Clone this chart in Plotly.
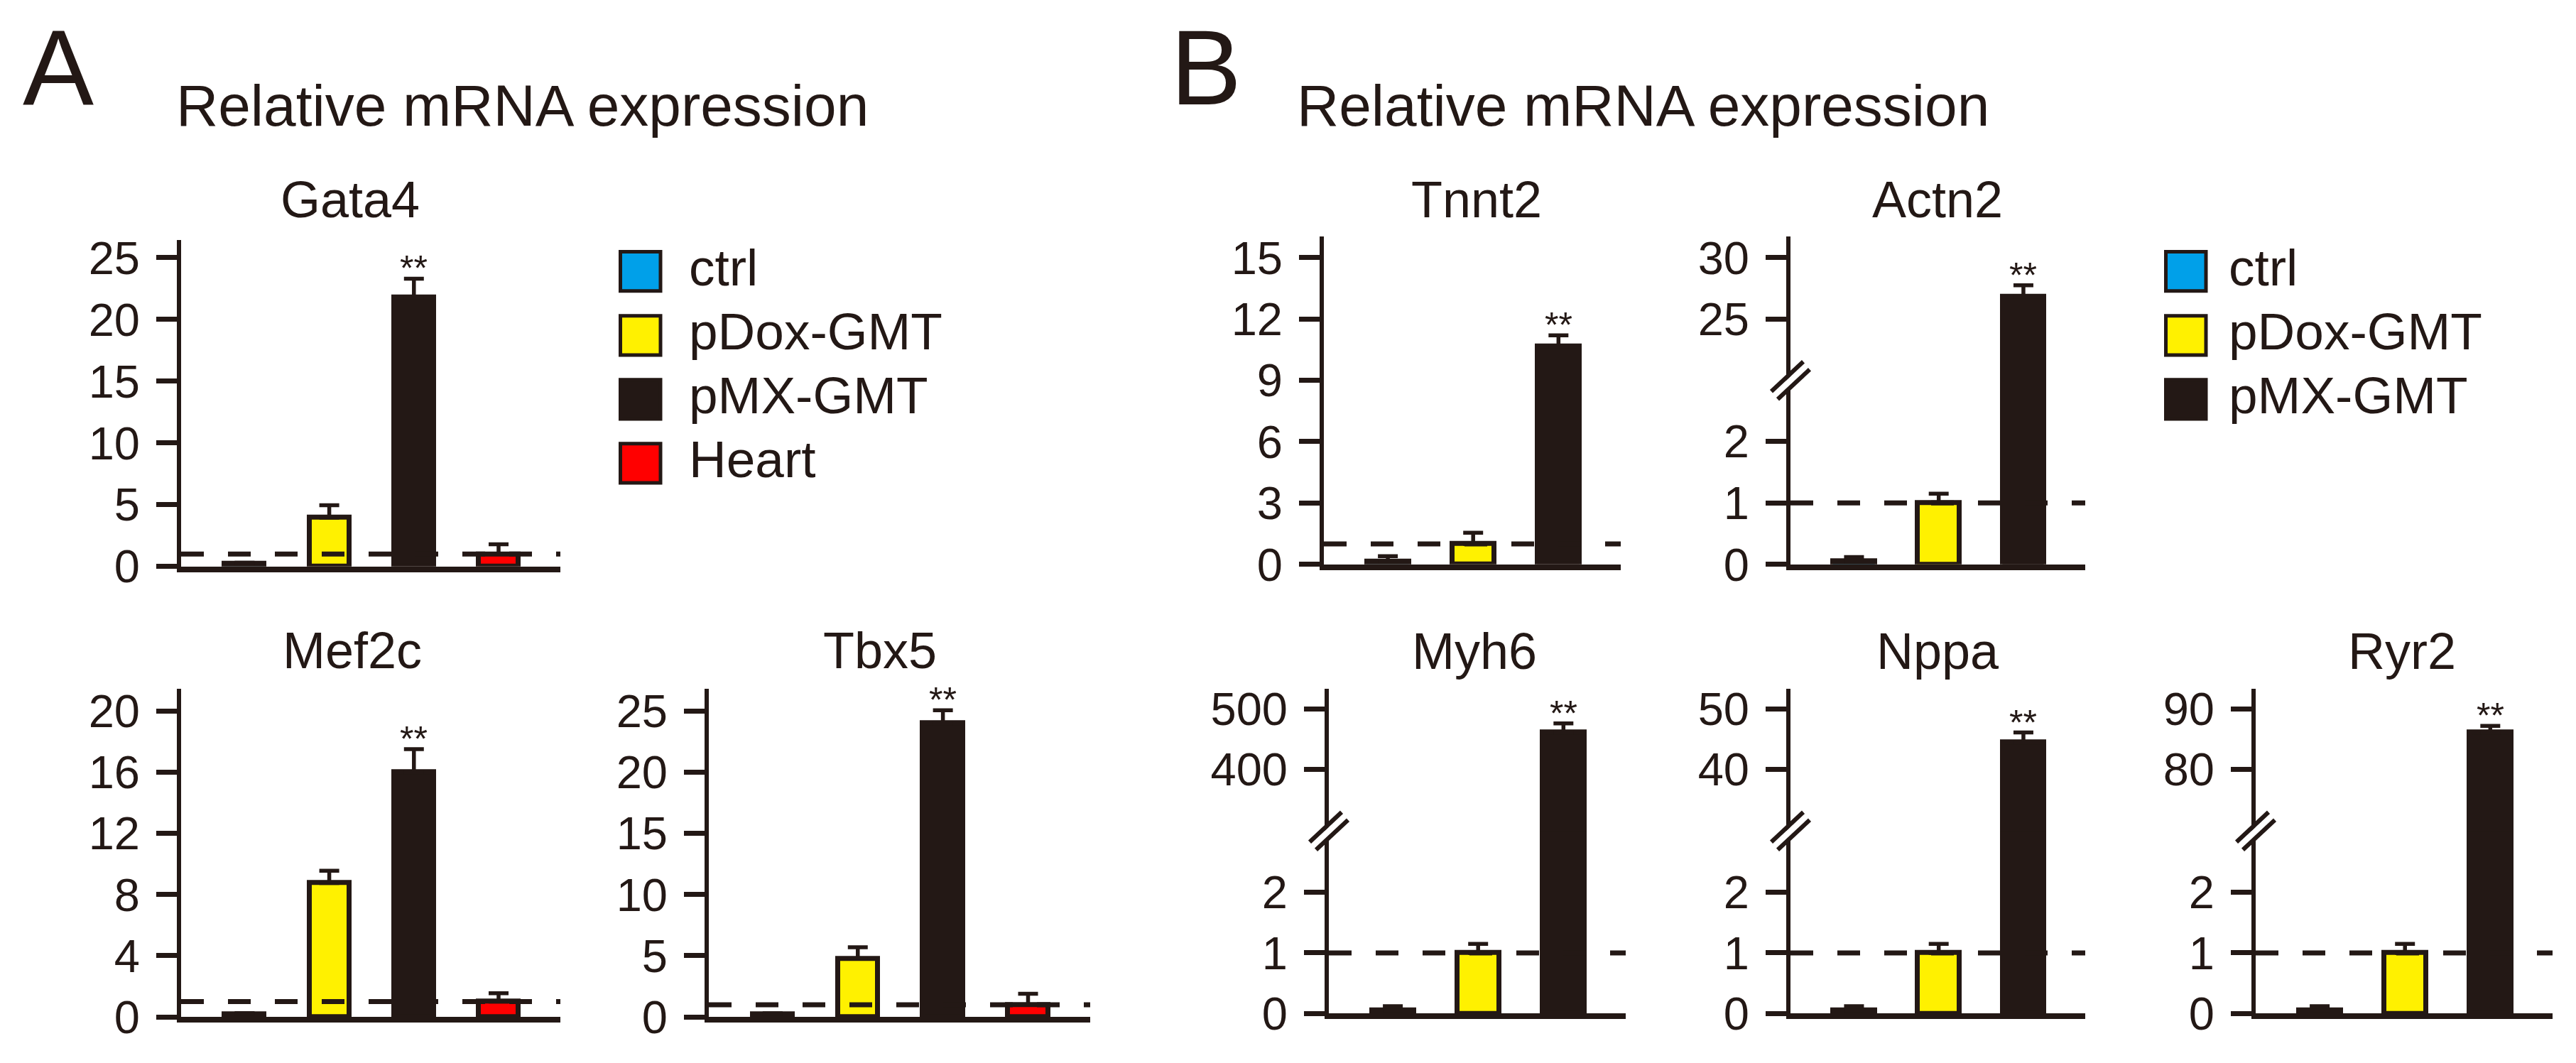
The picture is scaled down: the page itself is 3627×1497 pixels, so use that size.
import plotly.graph_objects as go

W, H = 3627, 1497
DARK = "#231815"
FONT = "Liberation Sans, Arial, Helvetica, sans-serif"

GROUPS_A = ["ctrl", "pDox-GMT", "pMX-GMT", "Heart"]
GROUPS_B = ["ctrl", "pDox-GMT", "pMX-GMT"]
COLORS = {"ctrl": "#00A0E9", "pDox-GMT": "#FFF100", "pMX-GMT": DARK, "Heart": "#FF0000"}
REF_LEVEL = 1.0  # dashed line = heart level

# panel A (mean, sem)
GATA4_MEAN = [0.25, 3.95, 21.8, 1.0]
GATA4_SEM = [0.05, 1.0, 1.5, 0.8]
MEF2C_MEAN = [0.2, 8.75, 16.0, 1.0]
MEF2C_SEM = [0.05, 0.8, 1.5, 0.55]
TBX5_MEAN = [0.25, 4.75, 24.0, 1.0]
TBX5_SEM = [0.05, 0.95, 1.05, 0.9]

# panel B
TNNT2_MEAN = [0.15, 1.0, 10.65]
TNNT2_SEM = [0.25, 0.55, 0.55]
ACTN2_MEAN = [0.05, 1.0, 26.8]
ACTN2_SEM = [0.07, 0.15, 0.95]
MYH6_MEAN = [0.05, 1.0, 461]
MYH6_SEM = [0.07, 0.15, 15]
NPPA_MEAN = [0.05, 1.0, 44.5]
NPPA_SEM = [0.07, 0.15, 1.6]
RYR2_MEAN = [0.05, 1.0, 86.1]
RYR2_SEM = [0.07, 0.15, 1.1]

GATA4_TICKS = [0, 5, 10, 15, 20, 25]
MEF2C_TICKS = [0, 4, 8, 12, 16, 20]
TBX5_TICKS = [0, 5, 10, 15, 20, 25]
TNNT2_TICKS = [0, 3, 6, 9, 12, 15]
LOW_TICKS = [0, 1, 2]
ACTN2_TICKS = [25, 30]
MYH6_TICKS = [400, 500]
NPPA_TICKS = [40, 50]
RYR2_TICKS = [80, 90]

# layout in pixels: left, right, bottom, top (+ break position for split axes)
PANELS = [
    dict(gene="Gata4", mean=GATA4_MEAN, sem=GATA4_SEM, groups=GROUPS_A, ticks=GATA4_TICKS,
         box=(247, 781, 805, 330), yr=[0, 26.45], title=(485, 272)),
    dict(gene="Mef2c", mean=MEF2C_MEAN, sem=MEF2C_SEM, groups=GROUPS_A, ticks=MEF2C_TICKS,
         box=(247, 781, 1460, 983), yr=[0, 21.44], title=(488, 927)),
    dict(gene="Tbx5", mean=TBX5_MEAN, sem=TBX5_SEM, groups=GROUPS_A, ticks=TBX5_TICKS,
         box=(990, 1527, 1460, 983), yr=[0, 26.8], title=(1231, 927)),
    dict(gene="Tnnt2", mean=TNNT2_MEAN, sem=TNNT2_SEM, groups=GROUPS_B, ticks=TNNT2_TICKS,
         box=(1856, 2274, 802, 325), yr=[0, 16.04], title=(2071, 272)),
    dict(gene="Actn2", mean=ACTN2_MEAN, sem=ACTN2_SEM, groups=GROUPS_B, ticks=LOW_TICKS,
         hi_ticks=ACTN2_TICKS, box=(2513, 2928, 802, 325), brk=533,
         yr=[0, 3.01], hi_yr=[19.95, 31.74], title=(2720, 272)),
    dict(gene="Myh6", mean=MYH6_MEAN, sem=MYH6_SEM, groups=GROUPS_B, ticks=LOW_TICKS,
         hi_ticks=MYH6_TICKS, box=(1863, 2281, 1455, 983), brk=1188,
         yr=[0, 3.03], hi_yr=[298, 533], title=(2068, 928)),
    dict(gene="Nppa", mean=NPPA_MEAN, sem=NPPA_SEM, groups=GROUPS_B, ticks=LOW_TICKS,
         hi_ticks=NPPA_TICKS, box=(2513, 2928, 1455, 983), brk=1188,
         yr=[0, 3.03], hi_yr=[29.8, 53.3], title=(2720, 928)),
    dict(gene="Ryr2", mean=RYR2_MEAN, sem=RYR2_SEM, groups=GROUPS_B, ticks=LOW_TICKS,
         hi_ticks=RYR2_TICKS, box=(3168, 3586, 1455, 983), brk=1188,
         yr=[0, 3.03], hi_yr=[69.8, 93.3], title=(3374, 928)),
]


def px(x):
    return x / W


def py(y):
    return 1 - y / H


def ref(kind, i):
    return kind if i == 1 else f"{kind}{i}"


def axname(kind, i):
    return f"{kind}axis" if i == 1 else f"{kind}axis{i}"


def yaxis_style(dom, yr, ticks, xref):
    return dict(
        domain=dom, range=yr, anchor=xref, tickmode="array", tickvals=ticks,
        ticks="outside", ticklen=29, tickwidth=7, tickcolor=DARK,
        showline=True, linewidth=6, linecolor=DARK, showgrid=False, zeroline=False,
        tickfont=dict(size=65, color=DARK, family=FONT), ticklabelstandoff=10,
        fixedrange=True,
    )


fig = go.Figure()
layout = {}
shapes = []
annotations = []
n = 0

for p in PANELS:
    left, right, bottom, top = p["box"]
    groups = p["groups"]
    n += 1
    xi = n
    yi = n
    xref, yref = ref("x", xi), ref("y", yi)
    split = "brk" in p
    low_top = p["brk"] if split else top
    bar_w = 0.47 if len(groups) == 4 else 0.49

    layout[axname("x", xi)] = dict(
        domain=[px(left), px(right)], range=[-0.75, len(groups) - 0.27], type="category",
        anchor=yref, showline=True, linewidth=8, linecolor=DARK, ticks="",
        showticklabels=False, showgrid=False, zeroline=False, fixedrange=True,
    )
    layout[axname("y", yi)] = yaxis_style([py(bottom), py(low_top)], p["yr"], p["ticks"], xref)

    bar_refs = [(xref, yref)]
    star_ref = yref
    if split:
        n += 1
        hi_ref = ref("y", n)
        # upper segment overlaps the lower one by 2 px so the clipped bar shows no seam
        layout[axname("y", n)] = yaxis_style([py(low_top + 2), py(top)], p["hi_yr"], p["hi_ticks"], xref)
        bar_refs.append((xref, hi_ref))
        star_ref = hi_ref

    for xr_, yr_ in bar_refs:
        fig.add_trace(go.Bar(
            x=groups, y=p["mean"], width=bar_w,
            marker=dict(color=[COLORS[g] for g in groups], line=dict(color=DARK, width=7)),
            error_y=dict(type="data", array=p["sem"], arrayminus=[0] * len(groups),
                         symmetric=False, color=DARK, thickness=5.5, width=14),
            xaxis=xr_, yaxis=yr_, hoverinfo="skip",
        ))

    # dashed reference line at heart level
    shapes.append(dict(
        type="line", xref=f"{xref} domain", x0=0, x1=1, yref=yref, y0=REF_LEVEL, y1=REF_LEVEL,
        line=dict(color=DARK, width=7, dash="32px,34px"),
    ))

    # axis break marks
    if split:
        for (ax0, ay0, ax1, ay1, col, w) in [(-22, -23, 22, 19, "white", 9),
                                             (-27, -17, 18, 25, DARK, 6),
                                             (-18, -28, 27, 14, DARK, 6)]:
            shapes.append(dict(
                type="line", xref=f"{xref} domain", xsizemode="pixel", xanchor=0,
                x0=ax0, x1=ax1, yref=f"{yref} domain", ysizemode="pixel", yanchor=1,
                y0=ay0, y1=ay1, line=dict(color=col, width=w),
            ))

    # significance stars over pMX-GMT
    annotations.append(dict(
        x=groups[2], y=p["mean"][2] + p["sem"][2], xref=xref, yref=star_ref,
        text="**", showarrow=False, yanchor="bottom", yshift=-16,
        font=dict(size=50, color=DARK, family=FONT),
    ))

    # gene title
    tx, ty = p["title"]
    annotations.append(dict(
        x=px(tx), y=py(ty), xref="paper", yref="paper", text=p["gene"], showarrow=False,
        xanchor="center", yanchor="middle", font=dict(size=72, color=DARK, family=FONT),
    ))

# panel letters and headings
for letter, lx, ly in [("A", 22, 80), ("B", 1638, 80)]:
    annotations.append(dict(x=px(lx), y=py(ly), xref="paper", yref="paper", text=letter,
                            showarrow=False, xanchor="left", yanchor="middle",
                            font=dict(size=150, color=DARK, family=FONT)))
for hx in [238, 1816]:
    annotations.append(dict(x=px(hx), y=py(135), xref="paper", yref="paper",
                            text="Relative mRNA expression", showarrow=False,
                            xanchor="left", yanchor="middle",
                            font=dict(size=82, color=DARK, family=FONT)))

# legends
for groups, bx, tx in [(GROUPS_A, 863, 960), (GROUPS_B, 3039, 3128)]:
    for k, g in enumerate(groups):
        cy = 376 + 93 * k
        shapes.append(dict(type="rect", xref="paper", yref="paper",
                           x0=px(bx + 2.5), x1=px(bx + 59), y0=py(cy + 28.5), y1=py(cy - 28.5),
                           fillcolor=COLORS[g], line=dict(color=DARK, width=5)))
        annotations.append(dict(x=px(tx), y=py(cy - 6), xref="paper", yref="paper", text=g,
                                showarrow=False, xanchor="left", yanchor="middle",
                                font=dict(size=73, color=DARK, family=FONT)))

fig.update_layout(
    width=W, height=H, margin=dict(l=0, r=0, t=0, b=0),
    # transparent plot area so the stacked break segments do not paint over each other
    paper_bgcolor="white", plot_bgcolor="rgba(0,0,0,0)", showlegend=False, bargap=0,
    font=dict(family=FONT, color=DARK), shapes=shapes, annotations=annotations,
    **layout,
)

fig.write_html("out.html")
